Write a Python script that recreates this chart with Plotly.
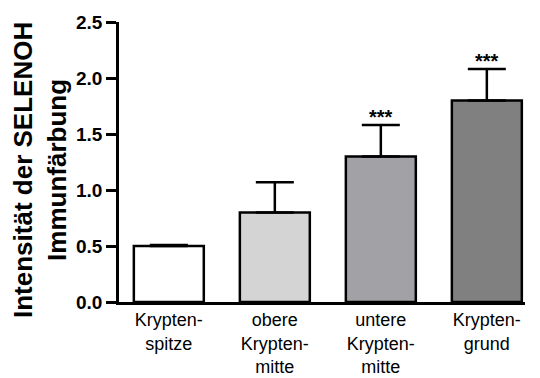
import plotly.graph_objects as go

categories = ["Krypten-<br>spitze", "obere<br>Krypten-<br>mitte", "untere<br>Krypten-<br>mitte", "Krypten-<br>grund"]
values = [0.50, 0.80, 1.30, 1.80]
errors = [0.01, 0.27, 0.28, 0.28]
colors = ["#ffffff", "#d4d4d4", "#a2a1a6", "#808080"]
stars = ["", "", "***", "***"]
y_ticks = [0.0, 0.5, 1.0, 1.5, 2.0, 2.5]

# page body has an 8px margin, so the figure is drawn at (8, 8)
W, H = 532, 370
L, R, T, B = 111, 15, 14, 76
FONT = "Arial, Liberation Sans"

fig = go.Figure()
fig.add_trace(go.Bar(
    x=categories, y=values, width=0.66,
    marker=dict(color=colors, line=dict(color="black", width=2.5)),
    error_y=dict(type="data", symmetric=False, array=errors, arrayminus=[0]*4,
                 color="black", thickness=2.5, width=19),
    showlegend=False,
))

for c, v, e, s in zip(categories, values, errors, stars):
    if s:
        fig.add_annotation(x=c, y=v + e, text=f"<b>{s}</b>", showarrow=False, yanchor="bottom",
                           yshift=-5, font=dict(family=FONT, size=20, color="black"))

fig.add_annotation(xref="paper", yref="paper", x=0, xshift=-79, xanchor="center",
                   y=(280 - 148) / 280, yanchor="middle", textangle=-90, showarrow=False,
                   text="<b>Intensität der SELENOH<br>Immunfärbung</b>",
                   font=dict(family=FONT, size=26, color="black"))

fig.update_layout(
    width=W, height=H, margin=dict(l=L, r=R, t=T, b=B, autoexpand=False),
    plot_bgcolor="white", paper_bgcolor="white",
    font=dict(family=FONT, color="black"),
)
fig.update_xaxes(range=[-0.47, 3.36], showline=True, linecolor="black", linewidth=2.5,
                 ticks="", showgrid=False, zeroline=False, automargin=False,
                 tickfont=dict(size=18, family=FONT, color="black"))
fig.update_yaxes(range=[0, 2.5], tickvals=y_ticks, ticktext=[f"<b>{t:.1f}</b>" for t in y_ticks],
                 showline=True, linecolor="black", linewidth=2.5, ticks="outside", ticklen=10,
                 tickwidth=2.5, tickcolor="black", showgrid=False, zeroline=False, automargin=False,
                 tickfont=dict(size=19, family=FONT, color="black"))

fig.write_html("out.html")
